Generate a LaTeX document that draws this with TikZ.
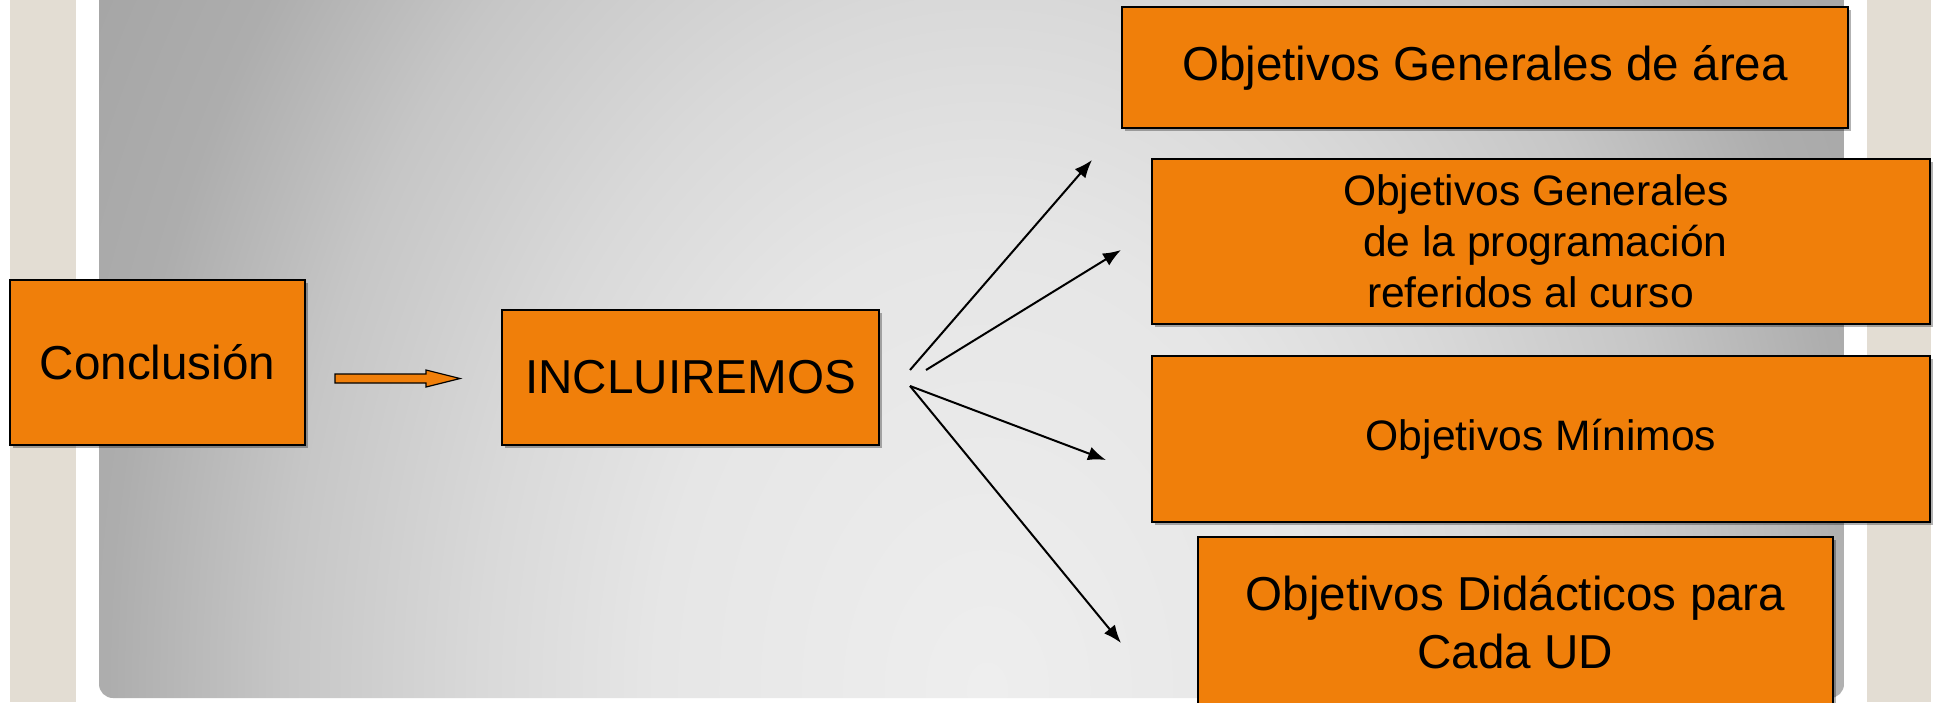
\documentclass[tikz,border=0pt]{standalone}
\usepackage{fontspec}
\setmainfont{Liberation Sans}
\usetikzlibrary{arrows.meta,shadows}
\definecolor{beige}{HTML}{E3DDD3}
\definecolor{boxorange}{HTML}{F07F0A}
\definecolor{pnlA}{HTML}{EEEEEE}
\definecolor{pnlB}{HTML}{E6E6E6}
\definecolor{pnlC}{HTML}{D9D9D9}
\definecolor{pnlD}{HTML}{C6C6C6}
\definecolor{pnlE}{HTML}{ADADAD}
\definecolor{pnlF}{HTML}{A2A2A2}
\pgfdeclareradialshading{panelshade}{\pgfpoint{0bp}{0bp}}{color(0bp)=(pnlA); color(7.5bp)=(pnlB); color(11.5bp)=(pnlC); color(16bp)=(pnlD); color(20bp)=(pnlE); color(25bp)=(pnlF); color(50bp)=(pnlF)}
\begin{document}
\begin{tikzpicture}[x=0.5pt,y=-0.5pt,
  box/.style={draw=black,line width=1pt,fill=boxorange,inner sep=0pt,text=black,
    drop shadow={shadow xshift=1.5pt,shadow yshift=-1.5pt,fill=black,opacity=0.3}},
  bigtxt/.style={font=\fontsize{23.8}{29}\selectfont},
  smalltxt/.style={font=\fontsize{21.3}{25.5}\selectfont},
  conn/.style={line width=1pt,-{Latex[length=9pt,width=7pt]}}]
\useasboundingbox (0,0) rectangle (1934,702);
\fill[white] (0,0) rectangle (1934,702);
\fill[beige] (10,0) rectangle (76,702);
\fill[beige] (1867,0) rectangle (1931,702);
\begin{scope}
  \clip[rounded corners=7pt] (99,-30) rectangle (1844,698);
  \shade[shading=panelshade] (987,690) ellipse (1100 and 1500);
\end{scope}
% boxes
\node[box,minimum width=147.5pt,minimum height=82.5pt,bigtxt] (concl) at (157.5,362.5) {Conclusión};
\node[box,minimum width=188.5pt,minimum height=67.5pt,bigtxt] (incl) at (690.5,377.5) {INCLUIREMOS};
\node[box,minimum width=363pt,minimum height=60.5pt,bigtxt] (og) at (1485,67.5) {Objetivos Generales de área};
\node[box,minimum width=389pt,minimum height=82.5pt,smalltxt,align=left] (ogp) at (1541,241.5)
  {Objetivos Generales\hspace*{5pt}\\\hspace*{10pt}de la programación\\\hspace*{12pt}referidos al curso};
\node[box,minimum width=389pt,minimum height=83pt,smalltxt] (om) at (1541,439) {Objetivos Mínimos};
\node[box,minimum width=317.5pt,minimum height=85pt,bigtxt,align=center] (od) at (1515.5,622)
  {Objetivos Didácticos para\\Cada UD};
% orange block arrow
\coordinate (oa) at (335,378.5);
\draw[fill=boxorange,line width=0.6pt,line join=miter] (oa) ++(0,-4.5) -- ++(91,0) -- ++(0,-4) -- ++(34,8.5) -- ++(-34,8.5) -- ++(0,-4) -- ++(-91,0) -- cycle;
% connectors
\coordinate (s1) at (910,370);
\coordinate (s2) at (926,370);
\coordinate (s3) at (910,386);
\coordinate (e1) at (1092,160);
\coordinate (e2) at (1121,250);
\coordinate (e3) at (1106,460);
\coordinate (e4) at (1121,643);
\draw[conn] (s1) -- (e1);
\draw[conn] (s2) -- (e2);
\draw[conn] (s3) -- (e3);
\draw[conn] (s3) -- (e4);
\end{tikzpicture}
\end{document}
